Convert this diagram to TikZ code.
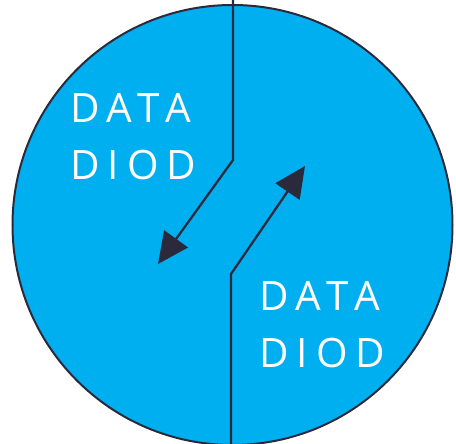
\documentclass[tikz,border=0pt]{standalone}
\usepackage{fontspec}
\usepackage{tikz}
\usetikzlibrary{arrows.meta}
\usepackage{xcolor}
\newfontfamily\diodfont[LetterSpace=20]{Open Sans}
\definecolor{diodblue}{RGB}{0,175,240}
\definecolor{diodline}{RGB}{42,42,60}

\begin{document}
\begin{tikzpicture}[x=1pt,y=1pt,>={Triangle[length=31pt,width=29pt]},line cap=round,
  zone/.style={text=white,align=left,inner sep=0pt,anchor=base west,
    font=\diodfont\fontsize{40.5}{57}\selectfont}]
\useasboundingbox (0,0) rectangle (456,444);
\fill[diodblue] (232.5,219) circle (220);
\draw[diodline,line width=2pt] (232.5,219) circle (220);
% split line with the two directions
\coordinate (topend) at (233,444);
\coordinate (topbend) at (233,284);
\coordinate (lefttip) at (158,180);
\coordinate (botend) at (231,0);
\coordinate (botbend) at (231,170);
\coordinate (righttip) at (305,278);
\draw[diodline,line width=2.3pt,line cap=butt,->] (topend) -- (topbend) -- (lefttip);
\draw[diodline,line width=2.3pt,line cap=butt,->] (botend) -- (botbend) -- (righttip);
\node[zone] (leftzone) at (70,264) {DATA\\DIOD};
\node[zone] (rightzone) at (259,76) {DATA\\DIOD};
\end{tikzpicture}
\end{document}
